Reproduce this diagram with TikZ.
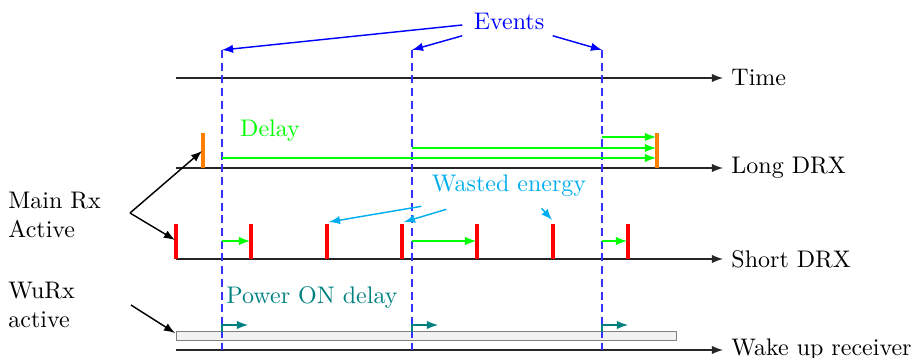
\documentclass[tikz,border=0pt]{standalone}
\usepackage{xcolor}
\usepackage{tikz}
\usetikzlibrary{positioning,arrows,calc}
\definecolor{evBlue}{RGB}{0, 0, 255}
\definecolor{wasteCyan}{RGB}{0, 174, 239}
\definecolor{delayGreen}{RGB}{0, 255, 0}
\definecolor{onTeal}{RGB}{0, 128, 128}
\definecolor{longOrange}{RGB}{255, 128, 0}

\begin{document}
\begin{tikzpicture}[
            x=0.4167pt, y=-0.4167pt,
            axis/.style={-latex, semithick, black!85},
            lbl/.style={anchor=west, align=left, inner sep=3.33pt},
            evline/.style={dash pattern=on 3.3pt off 2pt, evBlue!80, semithick},
            evarr/.style={-latex, semithick, evBlue},
            wastearr/.style={-latex, semithick, wasteCyan},
            delayarr/.style={-latex, semithick, delayGreen},
            onarr/.style={-latex, semithick, onTeal},
            shortbar/.style={red, line width=1.3pt},
            longbar/.style={longOrange, line width=1.3pt}
        ]
            \useasboundingbox (0,0) rectangle (915,358);

            % axes and their labels
            \node[lbl] (time) at (723,78) {Time};
            \node[lbl] (long) at (723,168) {Long DRX};
            \node[lbl] (short) at (723,259) {Short DRX};
            \node[lbl] (wake) at (723,350) {Wake up receiver};
            \coordinate (t0) at (176,78);
            \coordinate (l0) at (176,168);
            \coordinate (s0) at (176,259);
            \coordinate (w0) at (176,350);

            % WuRx on period
            \draw[gray, fill=gray!10] (176,331) rectangle (676,340);

            \draw[axis] (t0) -- (time.west);
            \draw[axis] (l0) -- (long.west);
            \draw[axis] (s0) -- (short.west);
            \draw[axis] (w0) -- (wake.west);

            % event instants
            \foreach \x/\n in {222/1,412/2,602/3} {
                \coordinate (ev\n) at (\x,50);
                \draw[evline] (ev\n) -- (\x,350);
            }

            % short DRX on durations
            \foreach \x in {176,251,327,402,477,553,628}
                \draw[shortbar] (\x,224) -- (\x,259);
            \draw[delayarr] (222,241) -- (250,241);
            \draw[delayarr] (412,241) -- (476,241);
            \draw[delayarr] (602,241) -- (627,241);

            % long DRX on durations
            \draw[longbar] (203,133) -- (203,168);
            \draw[longbar] (657,133) -- (657,168);
            \draw[delayarr] (222,158) -- (656,158);
            \draw[delayarr] (412,148) -- (656,148);
            \draw[delayarr] (602,137) -- (656,137);
            \node[delayGreen] (delay) at (270,131) {Delay};

            % wake up receiver power on
            \foreach \x in {222,412,602}
                \draw[onarr] (\x,332) |- (\x+26,325);
            \node[onTeal] (poweron) at (312,298) {Power ON delay};

            % annotations
            \node[evBlue] (events) at (509,21) {Events};
            \draw[evarr] ($(events.west)+(-3,4)$) -- (ev1);
            \draw[evarr] ($(events.south west)+(-3,-2)$) -- (ev2);
            \draw[evarr] ($(events.south east)+(0,-2)$) -- (ev3);

            \node[wasteCyan] (waste) at (509,186) {Wasted energy};
            \draw[wastearr] ($(waste.south west)+(-2,1)$) -- (329,222);
            \draw[wastearr] ($(waste.south west)+(23,4)$) -- (404,222);
            \draw[wastearr] ($(waste.south east)+(-53,3)$) -- (552,220);

            \node[lbl] (mainrx) at (0,215) {Main Rx\\Active};
            \coordinate (split) at (130,213);
            \draw[-latex, semithick] (split) -- (202,151);
            \draw[-latex, semithick] (split) -- (175,240);

            \node[lbl] (wurx) at (0,305) {WuRx\\active};
            \draw[-latex, semithick] (131,305) -- (175,333);
        \end{tikzpicture}
\end{document}
